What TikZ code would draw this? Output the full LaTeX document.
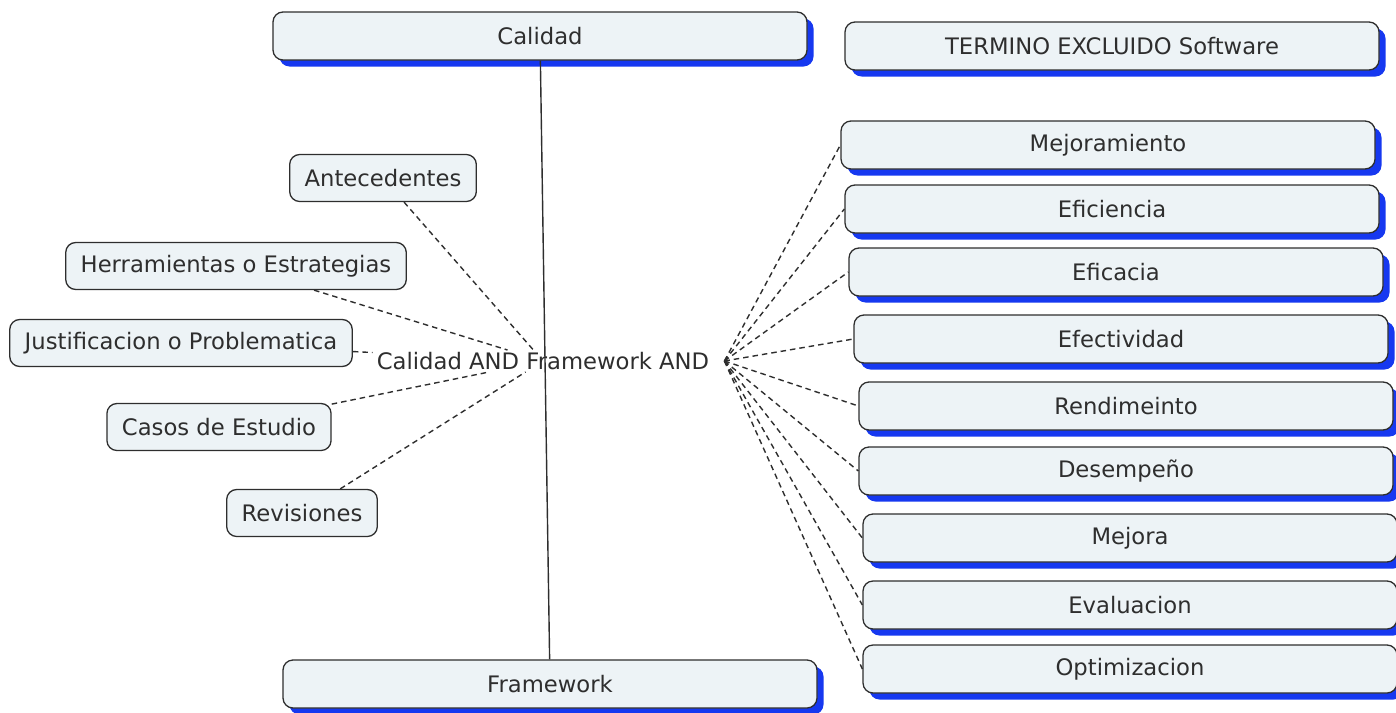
\documentclass[tikz,border=0pt]{standalone}
\usepackage{fontspec}
\setmainfont{DejaVu Sans}
\usepackage{xcolor}
\usetikzlibrary{shadows}

\definecolor{boxfill}{HTML}{EDF3F6}
\definecolor{shadowblue}{HTML}{1638F0}
\definecolor{edge}{HTML}{2E2E2E}

\begin{document}
\begin{tikzpicture}[
    x=1pt, y=-1pt,
    font=\fontsize{22.7}{27}\selectfont,
    topic/.style ={rectangle, draw=edge, line width=1.3pt, fill=boxfill, rounded corners=10pt,
                   minimum width=534pt, minimum height=48pt, text=edge,
                   drop shadow={shadow xshift=6.5pt, shadow yshift=-6.5pt, fill=shadowblue, opacity=1}},
    aspect/.style={rectangle, draw=edge, line width=1.3pt, fill=boxfill, rounded corners=10pt,
                   minimum height=47pt, inner xsep=15pt, text=edge},
    link/.style  ={edge, line width=1.4pt, dash pattern=on 5.5pt off 4pt}
]
  \useasboundingbox (0,0) rectangle (1396,712);

  % query in the middle
  \node[inner xsep=4pt, inner ysep=2pt, text=edge] (q) at (543,361) {Calidad AND Framework AND};
  \coordinate (hub) at ([xshift=11pt]q.east);

  % main terms
  \node[topic] (cal)  at (540,36)   {Calidad};
  \node[topic] (fw)   at (550,684)  {Framework};
  \node[topic] (excl) at (1112,46)  {TERMINO EXCLUIDO Software};

  % left side
  \node[aspect] (ante) at (383,178) {Antecedentes};
  \node[aspect] (herr) at (236,266) {Herramientas o Estrategias};
  \node[aspect] (just) at (181,343) {Justificacion o Problematica};
  \node[aspect] (caso) at (219,427) {Casos de Estudio};
  \node[aspect] (rev)  at (302,513) {Revisiones};

  % right side
  \node[topic] (m1) at (1108,145) {Mejoramiento};
  \node[topic] (m2) at (1112,209) {Eficiencia};
  \node[topic] (m3) at (1116,272) {Eficacia};
  \node[topic] (m4) at (1121,339) {Efectividad};
  \node[topic] (m5) at (1126,406) {Rendimeinto};
  \node[topic] (m6) at (1126,471) {Desempeño};
  \node[topic] (m7) at (1130,538) {Mejora};
  \node[topic] (m8) at (1130,605) {Evaluacion};
  \node[topic] (m9) at (1130,669) {Optimizacion};

  \draw[edge, line width=1.4pt] (cal) -- (fw);

  \foreach \n in {ante,herr,just,caso,rev}
    \draw[link] (\n) -- (q);
  \foreach \n in {m1,m2,m3,m4,m5,m6,m7,m8,m9}
    \draw[link] (hub) -- (\n.west);
\end{tikzpicture}
\end{document}
